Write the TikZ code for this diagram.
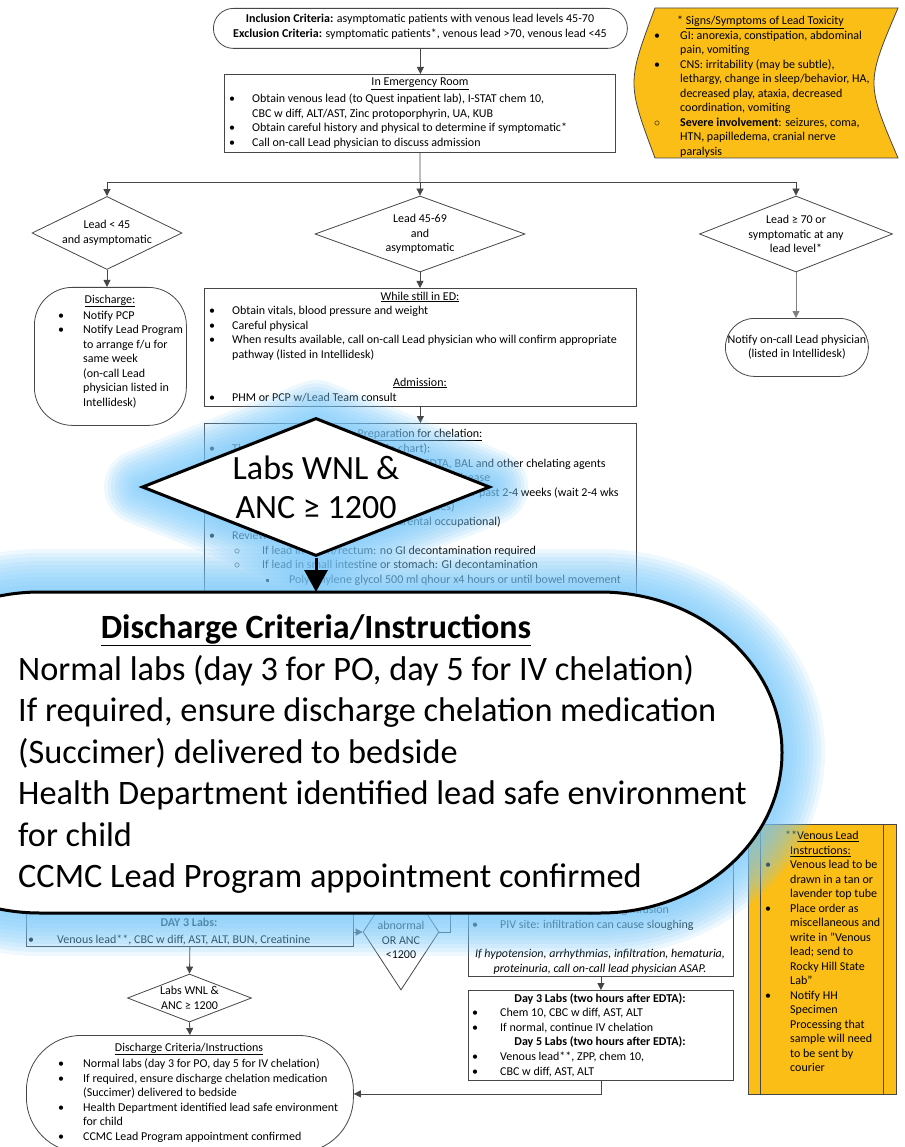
\documentclass[tikz,border=0pt]{standalone}
\usepackage{fontspec}
\setmainfont{Carlito}
\usetikzlibrary{arrows.meta, positioning, shapes.geometric}

\definecolor{leadyellow}{RGB}{251,190,22}
\definecolor{glowblue}{RGB}{120,200,250}
\definecolor{edgegray}{RGB}{70,70,70}

\newcommand{\fsmall}{\fontsize{12}{14.5}\selectfont}
\newcommand{\bl}[1][23pt]{\makebox[#1][l]{\textbullet}}
\newcommand{\ind}[1][23pt]{\hspace*{#1}}
\newcommand{\ci}[1][23pt]{\makebox[#1][l]{$\circ$}}
\newcommand{\sq}[1][23pt]{\makebox[#1][l]{\rule[1.5pt]{3pt}{3pt}}}
\newcommand{\stadpath}{(40,592) -- (600,592) arc[start angle=-90, end angle=90, x radius=182, y radius=160.5] -- (40,913) arc[start angle=90, end angle=270, x radius=182, y radius=160.5] -- cycle}

\tikzset{
  box/.style={draw=edgegray, line width=0.8pt, fill=white, inner sep=0pt, anchor=north west},
  txt/.style={inner sep=0pt, anchor=north west, align=left, font=\fsmall},
  ttl/.style={inner sep=0pt, align=center, font=\fsmall},
  choice/.style={diamond, draw=edgegray, line width=0.8pt, fill=white, inner sep=0pt},
  link/.style={draw=edgegray, line width=0.8pt},
  arr/.style={link, -{Triangle[width=7pt,length=7pt]}},
  glow/.style={draw=glowblue, line join=round, draw opacity=0.13},
  bigline/.style={draw=black, line width=3pt, fill=white}
}

\begin{document}
\begin{tikzpicture}[x=1pt, y=-1pt]
\useasboundingbox (0,0) rectangle (904,1147);
\clip (0,0) rectangle (904,1147);

% criteria and emergency room
\node[box, rounded corners=20pt, minimum width=414pt, minimum height=40pt] (incl) at (213,8) {};
\node[ttl] (incltxt) at (420,27) {\textbf{Inclusion Criteria:} asymptomatic patients with venous lead levels 45-70\\
  \textbf{Exclusion Criteria:} symptomatic patients*, venous lead >70, venous lead <45};
\node[box, minimum width=391pt, minimum height=78pt] (er) at (224,74) {};
\node[ttl] (ertitle) at (420,84) {\underline{In Emergency Room}};
\node[txt] (ertxt) at (229,94) {\bl Obtain venous lead (to Quest inpatient lab), I-STAT chem 10,\\
  \ind CBC w diff, ALT/AST, Zinc protoporphyrin, UA, KUB\\
  \bl Obtain careful history and physical to determine if symptomatic*\\
  \bl Call on-call Lead physician to discuss admission};

% signs box
\draw[draw=edgegray, fill=leadyellow, line width=0.8pt] (655,8) -- (898,8) .. controls (866,83) .. (898,158) -- (655,158) .. controls (627,83) .. (655,8) -- cycle;
\node[txt] (signs) at (654,16) {\ind[23pt]* \underline{Signs/Symptoms of Lead Toxicity}\\
  \bl[26pt]GI: anorexia, constipation, abdominal\\
  \ind[26pt]pain, vomiting\\
  \bl[26pt]CNS: irritability (may be subtle),\\
  \ind[26pt]lethargy, change in sleep/behavior, HA,\\
  \ind[26pt]decreased play, ataxia, decreased\\
  \ind[26pt]coordination, vomiting\\
  \ci[26pt]\textbf{Severe involvement}: seizures, coma,\\
  \ind[26pt]HTN, papilledema, cranial nerve\\
  \ind[26pt]paralysis};

% three lead levels
\coordinate (split) at (420,182);
\node[choice, minimum width=150pt, minimum height=73pt] (low) at (107,233) {};
\node[ttl] (lowtxt) at (low) {Lead < 45\\and asymptomatic};
\node[choice, minimum width=210pt, minimum height=76pt] (mid) at (420,234) {};
\node[ttl] (midtxt) at (mid) {Lead 45-69\\and\\asymptomatic};
\node[choice, minimum width=193pt, minimum height=76pt] (high) at (796,234) {};
\node[ttl] (hightxt) at (high) {Lead ≥ 70 or\\symptomatic at any\\lead level*};

\node[box, rounded corners=38pt, minimum width=152pt, minimum height=138pt] (lowdis) at (34,287) {};
\node[ttl] (lowdistitle) at (110,301) {\underline{Discharge:}};
\node[txt] (lowdistxt) at (58,311) {\bl[25pt]Notify PCP\\
  \bl[25pt]Notify Lead Program\\
  \ind[25pt]to arrange f/u for\\
  \ind[25pt]same week\\
  \ind[25pt](on-call Lead\\
  \ind[25pt]physician listed in\\
  \ind[25pt]Intellidesk)};

\node[box, minimum width=432pt, minimum height=118pt] (edbox) at (204,288) {};
\node[ttl] (edtitle) at (420,297) {\underline{While still in ED:}};
\node[txt] (edtxt) at (209,306) {\bl Obtain vitals, blood pressure and weight\\
  \bl Careful physical\\
  \bl When results available, call on-call Lead physician who will confirm appropriate\\
  \ind pathway (listed in Intellidesk)};
\node[ttl] (admtitle) at (420,383) {\underline{Admission:}};
\node[txt] (admtxt) at (209,393) {\bl PHM or PCP w/Lead Team consult};

\node[box, rounded corners=29pt, minimum width=143pt, minimum height=58pt] (notify) at (725,318) {};
\node[ttl] (notifytxt) at (notify) {Notify on-call Lead physician\\(listed in Intellidesk)};

\node[box, minimum width=432pt, minimum height=220pt] (prep) at (204,423) {};
\node[ttl] (preptitle) at (420,435) {\underline{Preparation for chelation:}};
\node[txt] (preptxt) at (209,444) {\bl Thorough history (documented in chart):\\
  \ind[25pt]\ci[28pt]Any known history of allergies to EDTA, BAL and other chelating agents\\
  \ind[25pt]\ci[28pt]Known G6PD deficiency, kidney or liver disease\\
  \ind[25pt]\ci[28pt]History of new exposure to lead source over past 2-4 weeks (wait 2-4 wks\\
  \ind[53pt]before chelating except in severe cases)\\
  \ind[25pt]\ci[28pt]Lead sources (home, toys, parental occupational)\\
  \bl Review KUB:\\
  \ind[25pt]\ci[28pt]If lead in colon/rectum: no GI decontamination required\\
  \ind[25pt]\ci[28pt]If lead in small intestine or stomach: GI decontamination\\
  \ind[57pt]\sq Polyethylene glycol 500 ml qhour x4 hours or until bowel movement};

% lower part
\node[box, minimum width=327pt, minimum height=66pt] (day3) at (26,880) {};
\node[ttl] (day3title) at (189,922) {\textbf{DAY 3 Labs:}};
\node[txt] (day3txt) at (28,935) {\bl[29pt]Venous lead**, CBC w diff, AST, ALT, BUN, Creatinine};

\node[choice, minimum width=76pt, minimum height=116pt] (abn) at (401,932) {};
\node[ttl] (abntxt) at (401,940) {abnormal\\OR ANC\\<1200};

\node[choice, minimum width=124pt, minimum height=48pt] (labs) at (189.5,998) {};
\node[ttl] (labstxt) at (labs) {Labs WNL \&\\ANC ≥ 1200};

\node[box, rounded corners=55pt, minimum width=327pt, minimum height=117pt] (disc) at (26,1035) {};
\node[ttl] (disctitle) at (189,1049) {\underline{Discharge Criteria/Instructions}};
\node[txt] (disctxt) at (58,1059) {\bl[25pt]Normal labs (day 3 for PO, day 5 for IV chelation)\\
  \bl[25pt]If required, ensure discharge chelation medication\\
  \ind[25pt](Succimer) delivered to bedside\\
  \bl[25pt]Health Department identified lead safe environment\\
  \ind[25pt]for child\\
  \bl[25pt]CCMC Lead Program appointment confirmed};

\node[box, minimum width=265pt, minimum height=116pt] (inf) at (468,860) {};
\node[txt] (inftxt) at (472,905) {\bl[28pt]Cardiac monitoring during infusion\\
  \bl[28pt]PIV site: infiltration can cause sloughing};
\node[ttl, font=\fsmall\itshape] (infwarn) at (600,962) {If hypotension, arrhythmias, infiltration, hematuria,\\
  proteinuria, call on-call lead physician ASAP.};

\node[box, minimum width=265pt, minimum height=90pt] (ivlabs) at (468,990) {};
\node[ttl] (ivday3) at (600,999) {\textbf{Day 3 Labs (two hours after EDTA):}};
\node[txt] (ivday3txt) at (472,1008) {\bl[28pt]Chem 10, CBC w diff, AST, ALT\\
  \bl[28pt]If normal, continue IV chelation};
\node[ttl] (ivday5) at (600,1042) {\textbf{Day 5 Labs (two hours after EDTA):}};
\node[txt] (ivday5txt) at (472,1052) {\bl[28pt]Venous lead**, ZPP, chem 10,\\
  \bl[28pt]CBC w diff, AST, ALT};

\node[box, fill=leadyellow, minimum width=148pt, minimum height=270pt] (venous) at (748,824) {};
\draw[link] ([xshift=12pt]venous.north west) -- ([xshift=12pt]venous.south west);
\draw[link] ([xshift=-13pt]venous.north east) -- ([xshift=-13pt]venous.south east);
\node[txt] (venoustxt) at (765,831) {\ind[20pt]**\underline{Venous Lead}\\
  \ind[25pt]\underline{Instructions:}\\
  \bl[25pt]Venous lead to be\\
  \ind[25pt]drawn in a tan or\\
  \ind[25pt]lavender top tube\\
  \bl[25pt]Place order as\\
  \ind[25pt]miscellaneous and\\
  \ind[25pt]write in "Venous\\
  \ind[25pt]lead; send to\\
  \ind[25pt]Rocky Hill State\\
  \ind[25pt]Lab"\\
  \bl[25pt]Notify HH\\
  \ind[25pt]Specimen\\
  \ind[25pt]Processing that\\
  \ind[25pt]sample will need\\
  \ind[25pt]to be sent by\\
  \ind[25pt]courier};

% connectors
\draw[arr] (incl.south) -- (incl.south |- er.north);
\draw[link] (er.south) -- (split);
\draw[arr] (split) -| (low.north);
\draw[arr] (split) -- (mid.north);
\draw[arr] (split) -| (high.north);
\draw[arr] (low.south) -- (low.south |- lowdis.north);
\draw[arr] (mid.south) -- (mid.south |- edbox.north);
\draw[arr, draw=gray] (high.south) -- (high.south |- notify.north);
\draw[arr] (edbox.south) -- (edbox.south |- prep.north);
\draw[arr] (abn.west -| day3.east) -- (abn.west);
\draw[link] (abn.east) -- ++(11,0) -- ++(0,-50);
\draw[arr] (day3.south) -- (labs.north);
\draw[arr] (labs.south) -- (disc.north);
\draw[arr] (inf.south) -- (ivlabs.north);
\draw[arr] (ivlabs.south) |- (disc.east);

% magnified callouts with glow
\foreach \w in {6,14,...,86}
  \draw[glow, line width=\w pt] \stadpath;
\foreach \w in {6,13,...,76}
  \draw[glow, line width=\w pt] (316,418) -- (490,487) -- (316,556) -- (142,487) -- cycle;
\draw[bigline] \stadpath;
\coordinate (stadtop) at (316,592);
\node[choice, bigline, minimum width=348pt, minimum height=138pt] (bigdia) at (316,487) {};
\node[inner sep=0pt, align=center, font=\fontsize{34}{39}\selectfont] (bigdiatxt) at (bigdia) {Labs WNL \&\\ANC ≥ 1200};
\draw[line width=3pt, -{Triangle[width=23pt,length=22pt]}] (bigdia.south) -- (stadtop);
\node[inner sep=0pt, font=\fontsize{34}{41.5}\selectfont\bfseries] (bigtitle) at (316,630) {\underline{Discharge Criteria/Instructions}};
\node[inner sep=0pt, anchor=north west, align=left, font=\fontsize{34.3}{41.5}\selectfont] (bigtxt) at (18,655) {Normal labs (day 3 for PO, day 5 for IV chelation)\\
  If required, ensure discharge chelation medication\\
  (Succimer) delivered to bedside\\
  Health Department identified lead safe environment\\
  for child\\
  CCMC Lead Program appointment confirmed};
\end{tikzpicture}
\end{document}
